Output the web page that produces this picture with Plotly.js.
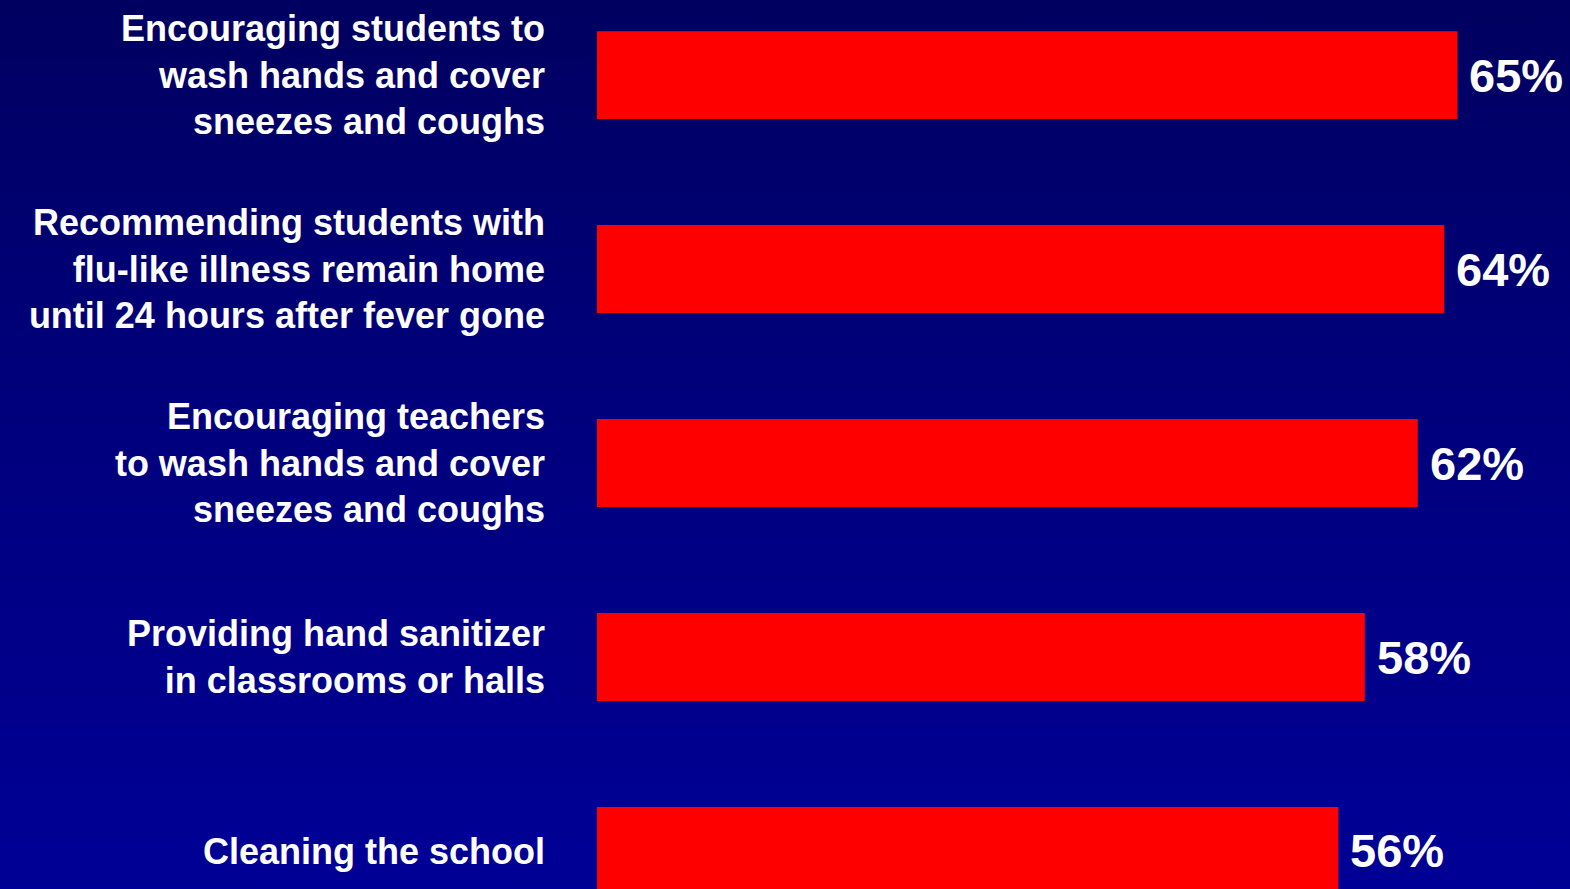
<!DOCTYPE html>
<html>
<head>
<meta charset="utf-8">
<script src="https://cdn.plot.ly/plotly-3.0.1.min.js"></script>
<style>
  html, body { margin: 0; padding: 0; width: 1570px; height: 889px; overflow: hidden;
    background: linear-gradient(to bottom, #000060 0%, #00007c 45%, #000096 100%); }
  #chart { width: 1570px; height: 889px; }
</style>
</head>
<body>
<div id="chart"></div>
<script>
const categories = [
  "Encouraging students to<br>wash hands and cover<br>sneezes and coughs",
  "Recommending students with<br>flu-like illness remain home<br>until 24 hours after fever gone",
  "Encouraging teachers<br>to wash hands and cover<br>sneezes and coughs",
  "Providing hand sanitizer<br>in classrooms or halls",
  "Cleaning the school"
];
const values = [65, 64, 62, 58, 56];
const valueLabels = values.map(v => v + "%");

const font = "Liberation Sans, Arial, sans-serif";

const trace = {
  type: "bar",
  orientation: "h",
  x: values,
  y: [0, 1, 2, 3, 4],
  width: 0.453,
  marker: { color: "#ff0000", line: { width: 0 } },
  hoverinfo: "skip"
};

const annotations = values.map((v, i) => ({
  x: v, y: i, xref: "x", yref: "y",
  text: valueLabels[i],
  showarrow: false,
  xanchor: "left", yanchor: "middle",
  xshift: 10,
  font: { family: font, size: 47, color: "#ffffff", weight: "bold" }
}));

const layout = {
  width: 1570, height: 889,
  margin: { l: 597, r: 0, t: 0, b: 0, pad: 0 },
  paper_bgcolor: "rgba(0,0,0,0)",
  plot_bgcolor: "rgba(0,0,0,0)",
  showlegend: false,
  xaxis: { range: [0, 73.5], visible: false, fixedrange: true },
  yaxis: {
    range: [4.196, -0.387],
    tickmode: "array",
    tickvals: [0, 1, 2, 3, 4],
    ticktext: categories,
    showgrid: false, zeroline: false, showline: false,
    ticks: "",
    ticklabelstandoff: 51,
    tickfont: { family: font, size: 36, color: "#ffffff", weight: "bold" },
    fixedrange: true
  },
  annotations: annotations
};

Plotly.newPlot("chart", [trace], layout, { displayModeBar: false, staticPlot: true });
</script>
</body>
</html>
